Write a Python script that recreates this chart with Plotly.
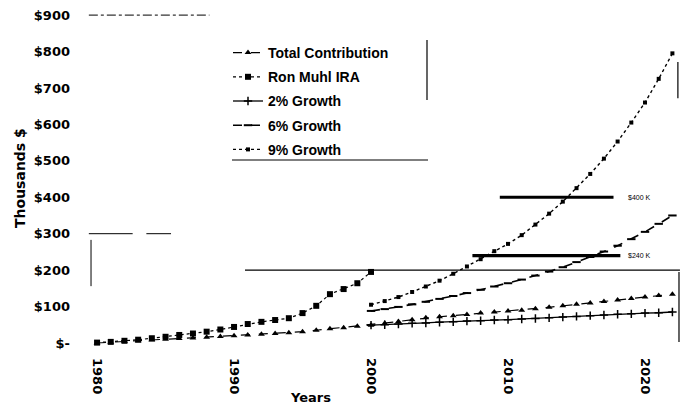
import plotly.graph_objects as go

# ---- data (thousands of dollars) ----
hist_years = list(range(1980, 2001))
ira_values = [1, 3, 6, 9, 13, 17, 22, 26, 31, 37, 44, 52, 58, 63, 68, 82, 102, 134, 148, 164, 195]

contrib_years = list(range(1980, 2023))
contrib_values = [0, 2, 4, 6, 8, 10, 12, 14, 16, 18, 20, 22, 24, 26, 28, 31, 35, 39, 42, 46,
                  49, 54, 59, 64, 69, 72, 75, 78, 82, 85, 88, 90, 94, 98, 102, 106, 110, 114,
                  118, 122, 126, 130, 134]

proj_years = list(range(2000, 2023))
growth_2 = [49, 50, 52, 54, 55, 57, 58, 60, 61, 63, 64, 66, 67, 69, 71, 73, 75, 77, 79, 80, 82, 83, 85]
growth_6 = [88, 93, 99, 106, 113, 121, 129, 137, 146, 155, 164, 174, 185, 196, 208, 222, 236,
            251, 267, 285, 305, 327, 350]
growth_9 = [105, 115, 126, 140, 155, 171, 190, 210, 230, 252, 272, 296, 325, 355, 388, 425, 464,
            506, 553, 605, 660, 725, 795]

y_ticks = [0, 100, 200, 300, 400, 500, 600, 700, 800, 900]
y_tick_text = ["$-", "$100", "$200", "$300", "$400", "$500", "$600", "$700", "$800", "$900"]
x_ticks = [1980, 1990, 2000, 2010, 2020]

# target markers: value and span of years
target_values = [400, 240]
target_spans = [(2009.4, 2017.7), (2007.4, 2018.2)]
target_labels = ["$400 K", "$240 K"]

# ---- figure geometry ----
W, H = 688, 406
ML, MR, MT, MB = 85, 6, 10, 51
X_RANGE = [1979.12, 2022.7]
Y_RANGE = [-33, 914]
PW, PH = W - ML - MR, H - MT - MB


def px_x(x):
    return (x - ML) / PW


def px_y(y):
    return (H - MB - y) / PH


fig = go.Figure()

fig.add_trace(go.Scatter(
    x=contrib_years, y=contrib_values, name="Total Contribution", legendgroup="a",
    mode="lines+markers",
    line=dict(color="black", width=1.2, dash="dash"),
    marker=dict(symbol="triangle-up", size=6, color="black"),
))
fig.add_trace(go.Scatter(
    x=hist_years, y=ira_values, name="Ron Muhl IRA", legendgroup="b",
    mode="lines+markers",
    line=dict(color="black", width=1.2, dash="dot"),
    marker=dict(symbol="square", size=6, color="black"),
))
fig.add_trace(go.Scatter(
    x=proj_years, y=growth_2, name="2% Growth", legendgroup="c",
    mode="lines+markers",
    line=dict(color="black", width=1.3),
    marker=dict(symbol="cross-thin", size=6, color="black", line=dict(color="black", width=1.5)),
))
fig.add_trace(go.Scatter(
    x=proj_years, y=growth_6, name="6% Growth", legendgroup="d",
    mode="lines+markers",
    line=dict(color="black", width=1.6, dash="dash"),
    marker=dict(symbol="line-ew", size=6, color="black", line=dict(color="black", width=2)),
))
fig.add_trace(go.Scatter(
    x=proj_years, y=growth_9, name="9% Growth", legendgroup="e",
    mode="lines+markers",
    line=dict(color="black", width=1.4, dash="dot"),
    marker=dict(symbol="square", size=4, color="black"),
))

shapes = []


def hline(y, x0, x1, width=1.0, dash="solid"):
    shapes.append(dict(type="line", xref="x", yref="y", x0=x0, x1=x1, y0=y, y1=y,
                       line=dict(color="black", width=width, dash=dash)))


def vline(x, y0, y1, width=1.0, dash="solid"):
    shapes.append(dict(type="line", xref="x", yref="y", x0=x, x1=x, y0=y0, y1=y1,
                       line=dict(color="black", width=width, dash=dash)))


# stray rule lines of the chart
hline(900, 1979.4, 1988.2, dash="dashdot")
hline(300, 1979.4, 1982.6)
hline(300, 1983.6, 1985.4)
vline(1979.56, 156, 283)
hline(200, 1990.8, 2022.55, width=1.2)
vline(2022.48, 3, 195, width=1.2)
vline(2022.4, 672, 771, width=1.2)

# thick target bars
for v, (a, b) in zip(target_values, target_spans):
    hline(v, a, b, width=3.2)

# partial legend frame
shapes.append(dict(type="line", xref="paper", yref="paper",
                   x0=px_x(427), x1=px_x(427), y0=px_y(40), y1=px_y(100),
                   line=dict(color="black", width=1.2)))
shapes.append(dict(type="line", xref="paper", yref="paper",
                   x0=px_x(232), x1=px_x(428), y0=px_y(160), y1=px_y(160),
                   line=dict(color="black", width=1.2)))

annotations = []
for v, (a, b), lab in zip(target_values, target_spans, target_labels):
    annotations.append(dict(x=2018.6, y=v, xref="x", yref="y", text=lab, showarrow=False,
                            xanchor="left", yanchor="middle",
                            font=dict(family="Liberation Sans", size=7, color="black")))

annotations.append(dict(x=px_x(20), y=px_y(178), xref="paper", yref="paper",
                        text="Thousands $", textangle=-90, showarrow=False,
                        xanchor="center", yanchor="middle",
                        font=dict(family="DejaVu Sans", size=14, color="black", weight="bold")))
annotations.append(dict(x=px_x(310), y=px_y(397), xref="paper", yref="paper",
                        text="Years", showarrow=False, xanchor="center", yanchor="middle",
                        font=dict(family="DejaVu Sans", size=13, color="black", weight="bold")))

fig.update_layout(
    width=W, height=H,
    margin=dict(l=ML, r=MR, t=MT, b=MB),
    paper_bgcolor="white", plot_bgcolor="white",
    showlegend=True,
    legend=dict(x=px_x(228), y=px_y(37), xanchor="left", yanchor="top",
                bgcolor="rgba(0,0,0,0)", borderwidth=0, tracegroupgap=3,
                itemwidth=30,
                font=dict(family="Liberation Sans", size=14, color="black", weight="bold")),
    shapes=shapes,
    annotations=annotations,
    xaxis=dict(range=X_RANGE, tickvals=x_ticks, tickangle=90, showgrid=False,
               zeroline=False, showline=False, ticks="", ticklabelstandoff=2,
               tickfont=dict(family="DejaVu Sans", size=13, color="black", weight="bold")),
    yaxis=dict(range=Y_RANGE, tickvals=y_ticks, ticktext=y_tick_text, showgrid=False,
               zeroline=False, showline=False, ticks="", ticklabelstandoff=14,
               tickfont=dict(family="DejaVu Sans", size=13, color="black", weight="bold")),
)

fig.write_html("out.html")
